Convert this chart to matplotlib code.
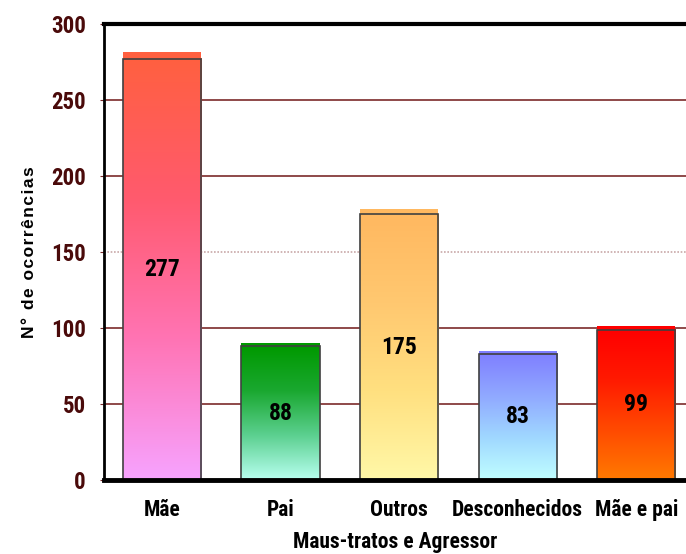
import matplotlib.pyplot as plt
import numpy as np
from matplotlib.colors import LinearSegmentedColormap
from matplotlib.patches import Rectangle

categorias = ["Mãe", "Pai", "Outros", "Desconhecidos", "Mãe e pai"]
ocorrencias = [277, 88, 175, 83, 99]

# degradês de cada barra, de baixo para cima
degrades = [
    ["#f7a3ff", "#ff74b4", "#ff5a6e", "#ff6040"],
    ["#b8fff0", "#5cd090", "#1aa830", "#009900"],
    ["#fff8a8", "#ffe080", "#ffc870", "#ffb860"],
    ["#c0ffff", "#a0d8ff", "#90a8ff", "#7f7fff"],
    ["#ff7a00", "#ff4a00", "#ff1a00", "#ff0000"],
]

estreitas = ["Liberation Sans Narrow", "Arial Narrow", "Roboto Condensed",
             "PT Sans Narrow", "Archivo Narrow", "Barlow Semi Condensed",
             "DejaVu Sans"]
narrow = dict(family=estreitas, fontweight="bold")
marrom = "#4a0a0a"

fig = plt.figure(figsize=(6.86, 5.54), dpi=100)
ax = fig.add_axes([104 / 686, 74 / 554, 582 / 686, 456 / 554])

x = np.arange(len(categorias))
largura = 0.66

# linhas de grade
for v in [50, 100, 200, 250]:
    ax.axhline(v, color="#7b2a2a", lw=1.2, zorder=1)
ax.axhline(150, color="#c8a8a8", lw=1.2, ls=(0, (1, 1)), zorder=1)

gradiente = np.linspace(0, 1, 256).reshape(-1, 1)
for xi, v, cores in zip(x, ocorrencias, degrades):
    cmap = LinearSegmentedColormap.from_list("g", cores)
    x0, x1 = xi - largura / 2, xi + largura / 2
    # faixa superior (efeito de profundidade)
    ax.add_patch(Rectangle((x0, v), largura, 1 + 0.013 * v,
                           facecolor=cores[-1], edgecolor="none", zorder=2))
    ax.imshow(gradiente, cmap=cmap, origin="lower", aspect="auto",
              extent=(x0, x1, 0, v), zorder=2)
    ax.add_patch(Rectangle((x0, 0), largura, v, facecolor="none",
                           edgecolor="#404040", lw=1.2, zorder=3))
    ax.text(xi, v / 2, str(v), ha="center", va="center", fontsize=17,
            color="black", zorder=4, **narrow)

ax.set_xlim(-0.49, 4.42)
ax.set_ylim(0, 300)

ax.set_yticks(range(0, 301, 50))
ax.set_xticks(x)
ax.set_xticklabels(categorias, fontsize=15.5, **narrow)
for t in ax.get_yticklabels():
    t.set_fontsize(16.5)
    t.set_fontweight("bold")
    t.set_family(estreitas)
    t.set_color(marrom)
ax.tick_params(axis="x", length=0, pad=14)
ax.tick_params(axis="y", length=3, color="#7b2a2a", pad=10)

ax.spines["right"].set_visible(False)
ax.spines["left"].set_linewidth(2)
ax.spines["top"].set_linewidth(3)
ax.spines["bottom"].set_linewidth(3.5)
for s in ax.spines.values():
    s.set_zorder(5)

ax.set_xlabel("Maus-tratos e Agressor", fontsize=15.5, labelpad=7, **narrow)
ax.set_ylabel("\u200a".join("N° de ocorrências"), fontsize=12.5,
              fontweight="bold", family=["Liberation Sans", "DejaVu Sans"],
              labelpad=10)

fig.savefig("out.png", dpi=100)
